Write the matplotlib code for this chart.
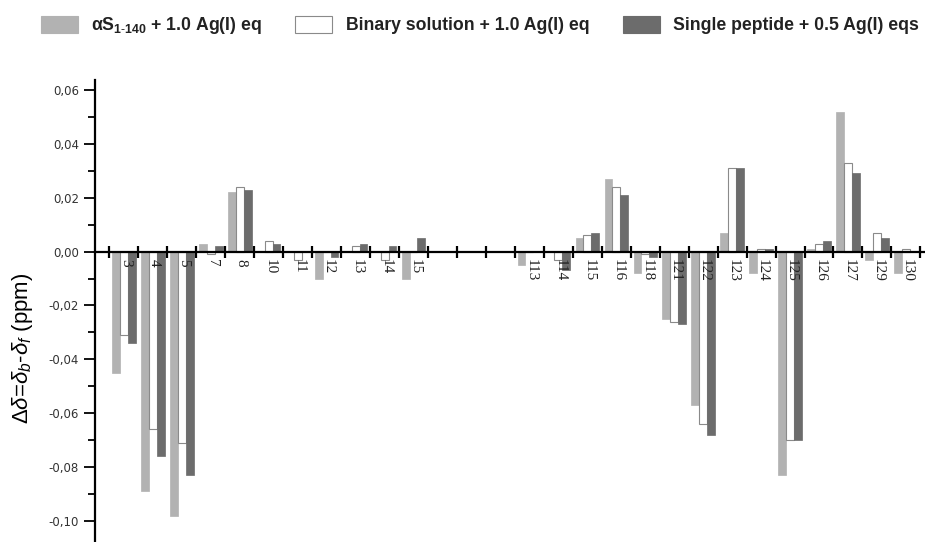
import matplotlib
matplotlib.use("Agg")
import matplotlib.pyplot as plt
import numpy as np
from matplotlib.ticker import MultipleLocator, FuncFormatter

plt.rcParams["mathtext.fontset"] = "custom"
plt.rcParams["mathtext.rm"] = "Liberation Sans"
plt.rcParams["mathtext.it"] = "Liberation Sans:italic"
plt.rcParams["mathtext.bf"] = "Liberation Sans:bold"

residues = ["3", "4", "5", "7", "8", "10", "11", "12", "13", "14", "15",
            "113", "114", "115", "116", "118", "121", "122", "123", "124",
            "125", "126", "127", "129", "130"]
positions = [1, 2, 3, 4, 5, 6, 7, 8, 9, 10, 11,
             15, 16, 17, 18, 19, 20, 21, 22, 23, 24, 25, 26, 27, 28]

as_full = [-0.045, -0.089, -0.098, 0.003, 0.022, 0.0, 0.0, -0.010, 0.0, 0.0, -0.010,
           -0.005, 0.0, 0.005, 0.027, -0.008, -0.025, -0.057, 0.007, -0.008,
           -0.083, 0.001, 0.052, -0.003, -0.008]
binary = [-0.031, -0.066, -0.071, -0.001, 0.024, 0.004, -0.003, 0.0, 0.002, -0.003, 0.0,
          0.0, -0.003, 0.006, 0.024, -0.001, -0.026, -0.064, 0.031, 0.001,
          -0.070, 0.003, 0.033, 0.007, 0.001]
single = [-0.034, -0.076, -0.083, 0.002, 0.023, 0.003, 0.0, -0.002, 0.003, 0.002, 0.005,
          0.0, -0.007, 0.007, 0.021, -0.002, -0.027, -0.068, 0.031, 0.001,
          -0.070, 0.004, 0.029, 0.005, 0.0]

labels = [r"$\mathbf{\alpha S_{1\text{-}140}}$ + 1.0 Ag(I) eq",
          "Binary solution + 1.0 Ag(I) eq",
          "Single peptide + 0.5 Ag(I) eqs"]

W, H = 925, 542
fig = plt.figure(figsize=(W / 100, H / 100), dpi=100)
ax = fig.add_axes([95 / W, 0, 1 - 95 / W, 1 - 80 / H])

x = np.array(positions, dtype=float)
bw = 0.27
c_light = "#b2b2b2"
c_dark = "#6c6c6c"
b1 = ax.bar(x - bw, as_full, bw, color=c_light, edgecolor=c_light, linewidth=0.5, label=labels[0])
b2 = ax.bar(x, binary, bw, color="white", edgecolor="#8a8a8a", linewidth=0.8, label=labels[1])
b3 = ax.bar(x + bw, single, bw, color=c_dark, edgecolor=c_dark, linewidth=0.5, label=labels[2])

ax.set_xlim(0, 28.66)
ax.set_ylim(-0.1078, 0.0637)

for s in ["top", "right"]:
    ax.spines[s].set_visible(False)
ax.spines["bottom"].set_position(("data", 0))
ax.spines["bottom"].set_linewidth(1.6)
ax.spines["left"].set_linewidth(1.6)

ax.set_xticks(np.arange(0.5, 28.6, 1.0))
ax.set_xticklabels([])
ax.tick_params(axis="x", direction="inout", length=9, width=1.6, color="black")

ax.yaxis.set_major_locator(MultipleLocator(0.02))
ax.yaxis.set_minor_locator(MultipleLocator(0.01))
ax.yaxis.set_major_formatter(FuncFormatter(lambda v, p: f"{v:.2f}".replace(".", ",").replace("-0,00", "0,00")))
ax.tick_params(axis="y", which="major", direction="out", length=8, width=1.3, labelsize=8.5, labelcolor="#333333")
ax.tick_params(axis="y", which="minor", direction="out", length=5, width=1.3)

for xi, lab in zip(positions, residues):
    ax.text(xi + 0.05, -0.0028, lab, rotation=-90, ha="center", va="top",
            fontsize=11, family="Liberation Serif", color="#222222")

ax.set_ylabel(r"$\Delta\delta$=$\delta_b$-$\delta_f$ (ppm)", fontsize=16, family="Liberation Sans")
ax.yaxis.set_label_coords(-0.072, 0.42)

leg = fig.legend(handles=[b1, b2, b3], loc="center left", bbox_to_anchor=(25 / W, 1 - 26 / H),
                 ncol=3, frameon=False, handlelength=2.1, handleheight=1.15,
                 columnspacing=1.9, handletextpad=0.75,
                 prop={"family": "Liberation Sans", "weight": "bold", "size": 12.7})
for h in leg.legend_handles:
    h.set_linewidth(0.8)
for t in leg.get_texts():
    t.set_color("#222222")

fig.savefig("out.png", dpi=100)
